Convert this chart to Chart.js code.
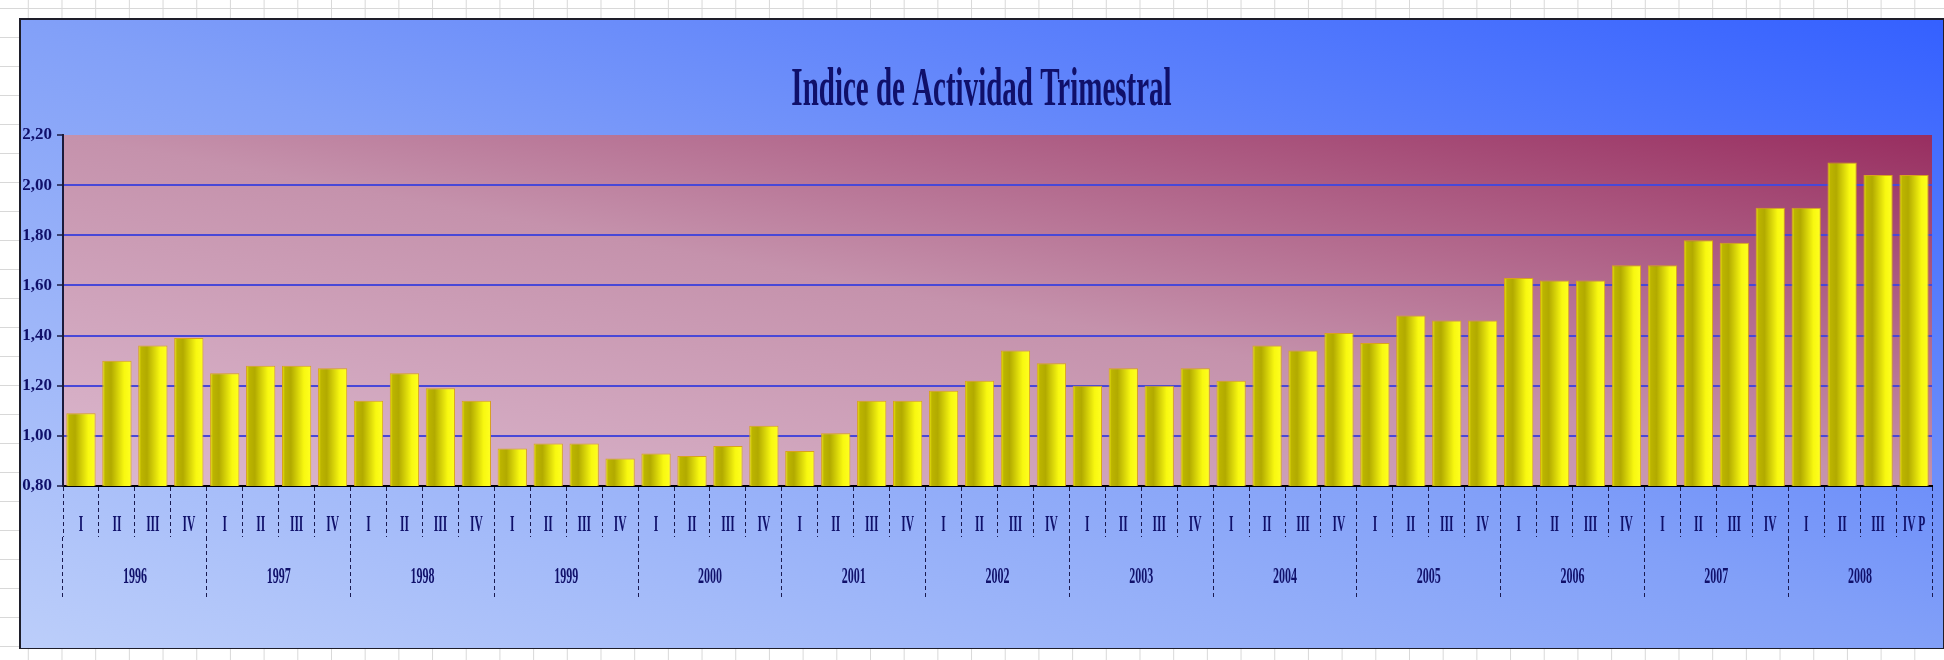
<!DOCTYPE html>
<html>
<head>
<meta charset="utf-8">
<title>Indice de Actividad Trimestral</title>
<script src="https://cdn.jsdelivr.net/npm/chart.js@4.4.1/dist/chart.umd.min.js"></script>
<style>
  html, body { margin: 0; padding: 0; }
  body {
    width: 1944px;
    height: 660px;
    overflow: hidden;
    position: relative;
    background-color: #ffffff;
    background-image:
      linear-gradient(to right, #d8d8d8 1px, transparent 1px),
      linear-gradient(to bottom, #d8d8d8 1px, transparent 1px);
    background-size: 33.7px 29px;
    background-position: 27.8px 8px;
  }
  #chart { position: absolute; left: 19px; top: 18px; }
</style>
</head>
<body>
<canvas id="chart" width="1925" height="631"></canvas>
<script>
"use strict";

// data
var chartTitle = 'Indice de Actividad Trimestral';
var years = ['1996', '1997', '1998', '1999', '2000', '2001', '2002',
             '2003', '2004', '2005', '2006', '2007', '2008'];
var quarters = ['I', 'II', 'III', 'IV'];
var lastQuarter = 'IV P';

var q1996 = [1.09, 1.30, 1.36, 1.39];
var q1997 = [1.25, 1.28, 1.28, 1.27];
var q1998 = [1.14, 1.25, 1.19, 1.14];
var q1999 = [0.95, 0.97, 0.97, 0.91];
var q2000 = [0.93, 0.92, 0.96, 1.04];
var q2001 = [0.94, 1.01, 1.14, 1.14];
var q2002 = [1.18, 1.22, 1.34, 1.29];
var q2003 = [1.20, 1.27, 1.20, 1.27];
var q2004 = [1.22, 1.36, 1.34, 1.41];
var q2005 = [1.37, 1.48, 1.46, 1.46];
var q2006 = [1.63, 1.62, 1.62, 1.68];
var q2007 = [1.68, 1.78, 1.77, 1.91];
var q2008 = [1.91, 2.09, 2.04, 2.04];

var yTickLabels = ['0,80', '1,00', '1,20', '1,40', '1,60', '1,80', '2,00', '2,20'];

var values = [].concat(q1996, q1997, q1998, q1999, q2000, q2001, q2002,
                       q2003, q2004, q2005, q2006, q2007, q2008);
var labels = [];
years.forEach(function () { labels = labels.concat(quarters); });
labels[labels.length - 1] = lastQuarter;

var navy = '#10106a';
var barPct = 0.815;

// gradient with colour lines along the box diagonal, like the office one
function diagGradient(ctx, x, y, w, h, stops) {
    var cx = x + w / 2, cy = y + h / 2;
    var f = (w * h) / (w * w + h * h);
    var dx = f * h, dy = -f * w;
    var g = ctx.createLinearGradient(cx - dx, cy - dy, cx + dx, cy + dy);
    stops.forEach(function (s) { g.addColorStop(s[0], s[1]); });
    return g;
}

function squeezedText(ctx, text, x, y, sx) {
    ctx.save();
    ctx.translate(x, y);
    ctx.scale(sx, 1);
    ctx.fillText(text, 0, 0);
    ctx.restore();
}

var backdrop = {
    id: 'backdrop',
    beforeDraw: function (chart) {
        var ctx = chart.ctx, ca = chart.chartArea;
        ctx.save();
        ctx.fillStyle = diagGradient(ctx, 0, 0, chart.width, chart.height,
            [[0, '#bccefa'], [0.5, '#82a0f8'], [1, '#3460ff']]);
        ctx.fillRect(0, 0, chart.width, chart.height);
        ctx.strokeStyle = '#1e1e2a';
        ctx.lineWidth = 2;
        ctx.strokeRect(1, 1, chart.width - 1, chart.height - 1);
        ctx.fillStyle = diagGradient(ctx, ca.left, ca.top, ca.width, ca.height,
            [[0, '#dcb8ce'], [0.5, '#c592ac'], [1, '#982e60']]);
        ctx.fillRect(ca.left, ca.top, ca.width, ca.height);
        ctx.restore();
    }
};

var texts = {
    id: 'texts',
    afterDraw: function (chart) {
        var ctx = chart.ctx, xs = chart.scales.x, x2 = chart.scales.x2;
        ctx.save();
        ctx.fillStyle = navy;
        ctx.textAlign = 'center';
        ctx.textBaseline = 'alphabetic';

        ctx.font = 'bold 23px "Liberation Serif"';
        labels.forEach(function (lab, i) {
            squeezedText(ctx, lab, xs.getPixelForValue(i), xs.top + 45, 0.5);
        });

        ctx.font = 'bold 24px "Liberation Serif"';
        years.forEach(function (yr, j) {
            squeezedText(ctx, yr, x2.getPixelForValue(j), x2.top + 46, 0.5);
        });

        ctx.font = 'bold 55px "Liberation Serif"';
        squeezedText(ctx, chartTitle, chart.width / 2, 87, 0.527);
        ctx.restore();
    }
};

function barFill(c) {
    var chart = c.chart, xs = chart.scales.x;
    if (c.type !== 'data' || !xs || !chart.chartArea) return '#e0d800';
    var cx = xs.getPixelForValue(c.dataIndex);
    var half = xs.width / values.length * barPct / 2;
    var g = chart.ctx.createLinearGradient(cx - half, 0, cx + half, 0);
    g.addColorStop(0, '#f2ee10');
    g.addColorStop(0.1, '#bcb400');
    g.addColorStop(0.3, '#b2aa00');
    g.addColorStop(0.75, '#f8f810');
    g.addColorStop(1, '#ffff20');
    return g;
}

var chart = new Chart(document.getElementById('chart'), {
    type: 'bar',
    data: {
        labels: labels,
        datasets: [{
            data: values,
            backgroundColor: barFill,
            borderColor: '#d9a21c',
            borderWidth: 1,
            categoryPercentage: 1,
            barPercentage: barPct
        }]
    },
    options: {
        responsive: false,
        animation: false,
        events: [],
        layout: {
            padding: { top: 117, left: 0, right: 12, bottom: 49 }
        },
        scales: {
            x: {
                type: 'category',
                offset: true,
                weight: 0,
                grid: {
                    offset: true,
                    drawOnChartArea: false,
                    drawTicks: true,
                    tickLength: 51,
                    tickColor: '#1a1a50',
                    tickWidth: 1,
                    tickBorderDash: [4, 3]
                },
                border: { display: true, color: '#000000', width: 2, dash: [2, 2] },
                ticks: { display: false },
                afterFit: function (s) { s.height = 51; }
            },
            x2: {
                type: 'category',
                position: 'bottom',
                labels: years,
                offset: true,
                weight: 1,
                grid: {
                    offset: true,
                    drawOnChartArea: false,
                    drawTicks: true,
                    tickLength: 63,
                    tickColor: '#1a1a50',
                    tickWidth: 1,
                    tickBorderDash: [4, 3]
                },
                border: { display: false },
                ticks: { display: false },
                afterFit: function (s) { s.height = 63; }
            },
            y: {
                min: 0.8,
                max: 2.2,
                ticks: {
                    stepSize: 0.2,
                    padding: 5,
                    color: navy,
                    font: { family: '"Liberation Serif"', size: 17, weight: 'bold' },
                    callback: function (v, i) { return yTickLabels[i]; }
                },
                grid: {
                    color: function (c) {
                        return (c.index === 0 || c.index === yTickLabels.length - 1)
                            ? 'rgba(0,0,0,0)' : '#4848d8';
                    },
                    lineWidth: 2,
                    tickLength: 6,
                    tickColor: '#1a1a40',
                    tickWidth: 1.5
                },
                border: { display: true, color: '#1a1a3a', width: 2 },
                afterFit: function (s) { s.width = 44; }
            }
        },
        plugins: {
            legend: { display: false },
            title: { display: false },
            tooltip: { enabled: false }
        }
    },
    plugins: [backdrop, texts]
});
</script>
</body>
</html>
